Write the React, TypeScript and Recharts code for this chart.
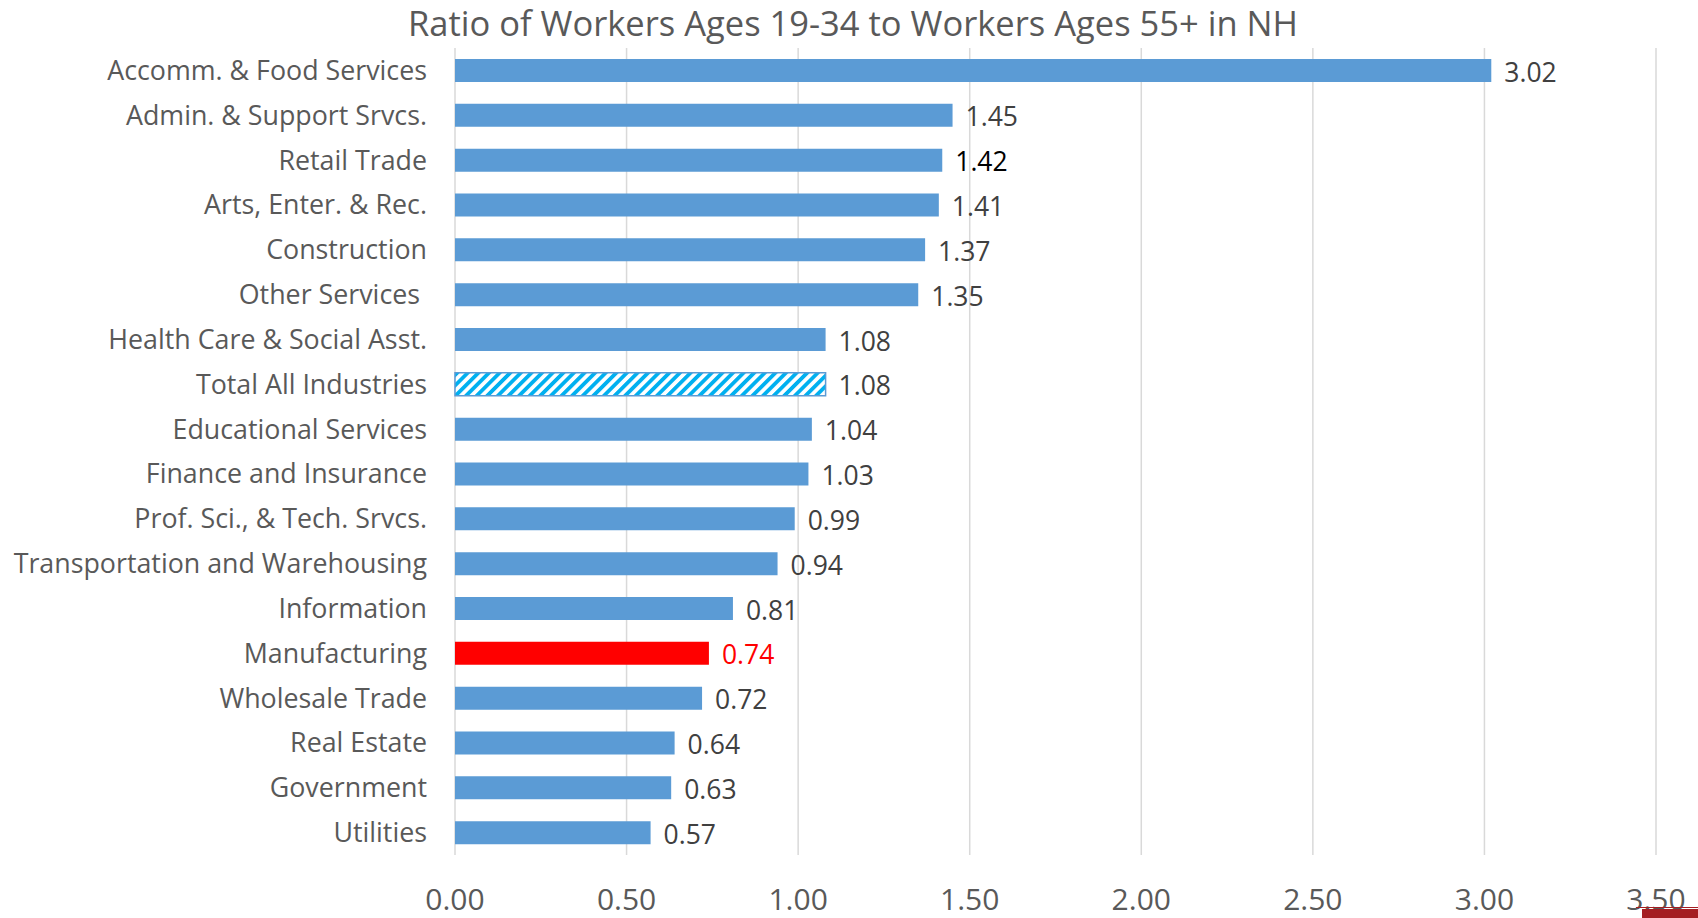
import React from 'react';
import { BarChart, Bar, XAxis, YAxis, CartesianGrid, Cell, LabelList } from 'recharts';

const categories = [
  'Accomm. & Food Services',
  'Admin. & Support Srvcs.',
  'Retail Trade',
  'Arts, Enter. & Rec.',
  'Construction',
  'Other Services ',
  'Health Care & Social Asst.',
  'Total All Industries',
  'Educational Services',
  'Finance and Insurance',
  'Prof. Sci., & Tech. Srvcs.',
  'Transportation and Warehousing',
  'Information',
  'Manufacturing',
  'Wholesale Trade',
  'Real Estate',
  'Government',
  'Utilities',
];
const ratios = [3.02, 1.45, 1.42, 1.41, 1.37, 1.35, 1.08, 1.08, 1.04, 1.03, 0.99, 0.94, 0.81, 0.74, 0.72, 0.64, 0.63, 0.57];
const xTicks = [0, 0.5, 1, 1.5, 2, 2.5, 3, 3.5];

const data = categories.map((name, i) => ({ name, value: ratios[i] }));

const FONT = '"Open Sans", sans-serif';

const barFill = (name: string) =>
  name === 'Total All Industries' ? 'url(#hatch)' : name === 'Manufacturing' ? '#FF0000' : '#5B9BD5';
const labelColor = (name: string) =>
  name === 'Manufacturing' ? '#FF0000' : name === 'Retail Trade' ? '#000000' : '#404040';

const YTick = (props: any) => {
  const { x, y, payload } = props;
  return (
    <text x={x} y={y} dy="0.355em" textAnchor="end" fill="#595959" fontSize={26.8} fontFamily={FONT} style={{ whiteSpace: 'pre' }}>
      {payload.value}
    </text>
  );
};

const ValueLabel = (props: any) => {
  const { x, y, width, height, value, index } = props;
  const name = categories[index];
  return (
    <text x={x + width + 13} y={y + height / 2} dy="0.42em" textAnchor="start" fill={labelColor(name)} fontSize={26.5} fontFamily={FONT}>
      {Number(value).toFixed(2)}
    </text>
  );
};

export default function App() {
  return (
    <div style={{ position: 'absolute', left: 0, top: 0, width: 1698, height: 918, background: '#fff', overflow: 'hidden' }}>
      <div
        style={{
          position: 'absolute',
          left: 0,
          width: 1698,
          top: 1,
          textAlign: 'center',
          fontFamily: FONT,
          fontSize: 34.5,
          lineHeight: '44px',
          color: '#595959',
          paddingLeft: 8,
          boxSizing: 'border-box',
        }}
      >
        Ratio of Workers Ages 19-34 to Workers Ages 55+ in NH
      </div>
      <BarChart
        width={1698}
        height={918}
        data={data}
        layout="vertical"
        margin={{ top: 48, right: 42, bottom: 0, left: 0 }}
        barSize={23}
      >
        <defs>
          <pattern id="hatch" patternUnits="userSpaceOnUse" width="7.5" height="7.5" patternTransform="rotate(45)">
            <rect x="0" y="0" width="7.5" height="7.5" fill="#ffffff" />
            <rect x="0" y="0" width="3.8" height="7.5" fill="#00B0F0" />
          </pattern>
        </defs>
        <CartesianGrid horizontal={false} stroke="#D9D9D9" strokeWidth={1.5} />
        <XAxis
          type="number"
          domain={[0, 3.5]}
          ticks={xTicks}
          tickFormatter={(v: number) => v.toFixed(2)}
          axisLine={false}
          tickLine={false}
          tickSize={0}
          tickMargin={34}
          height={63}
          interval={0}
          tick={{ fill: '#595959', fontSize: 30, fontFamily: FONT }}
        />
        <YAxis
          type="category"
          dataKey="name"
          width={455}
          axisLine={false}
          tickLine={false}
          tickSize={0}
          tickMargin={28}
          interval={0}
          tick={<YTick />}
        />
        <Bar dataKey="value" isAnimationActive={false}>
          {data.map((d) => (
            <Cell
              key={d.name}
              fill={barFill(d.name)}
              stroke={d.name === 'Total All Industries' ? '#5B9BD5' : 'none'}
              strokeWidth={1.5}
            />
          ))}
          <LabelList dataKey="value" content={<ValueLabel />} />
        </Bar>
      </BarChart>
      <div style={{ position: 'absolute', left: 1636, top: 907, width: 62, height: 1, background: '#A41E22' }} />
      <div style={{ position: 'absolute', left: 1642, top: 909, width: 56, height: 9, background: '#A41E22' }} />
    </div>
  );
}
